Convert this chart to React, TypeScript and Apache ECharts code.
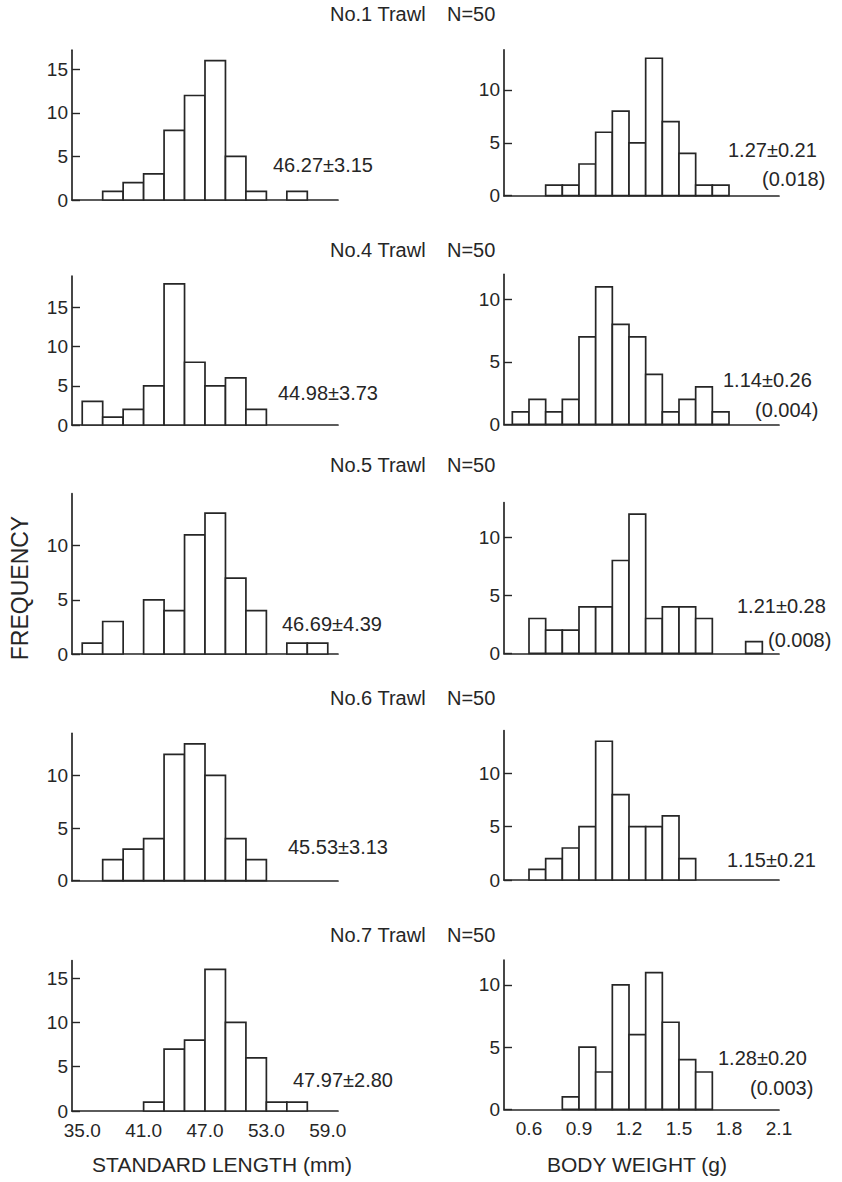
import React, { useEffect, useRef } from 'react';
import * as echarts from 'echarts';

// ---------- data ----------
const trawls = ['No.1 Trawl', 'No.4 Trawl', 'No.5 Trawl', 'No.6 Trawl', 'No.7 Trawl'];
const sampleSize = 'N=50';

const lengthBinStarts = [35, 37, 39, 41, 43, 45, 47, 49, 51, 53, 55, 57];
const lengthBinWidth = 2;
const lengthCountsNo1 = [0, 1, 2, 3, 8, 12, 16, 5, 1, 0, 1, 0];
const lengthCountsNo4 = [3, 1, 2, 5, 18, 8, 5, 6, 2, 0, 0, 0];
const lengthCountsNo5 = [1, 3, 0, 5, 4, 11, 13, 7, 4, 0, 1, 1];
const lengthCountsNo6 = [0, 2, 3, 4, 12, 13, 10, 4, 2, 0, 0, 0];
const lengthCountsNo7 = [0, 0, 0, 1, 7, 8, 16, 10, 6, 1, 1, 0];
const lengthCounts = [lengthCountsNo1, lengthCountsNo4, lengthCountsNo5, lengthCountsNo6, lengthCountsNo7];

const weightBinStarts = [0.5, 0.6, 0.7, 0.8, 0.9, 1.0, 1.1, 1.2, 1.3, 1.4, 1.5, 1.6, 1.7, 1.8, 1.9, 2.0];
const weightBinWidth = 0.1;
const weightCountsNo1 = [0, 0, 1, 1, 3, 6, 8, 5, 13, 7, 4, 1, 1, 0, 0, 0];
const weightCountsNo4 = [1, 2, 1, 2, 7, 11, 8, 7, 4, 1, 2, 3, 1, 0, 0, 0];
const weightCountsNo5 = [0, 3, 2, 2, 4, 4, 8, 12, 3, 4, 4, 3, 0, 0, 1, 0];
const weightCountsNo6 = [0, 1, 2, 3, 5, 13, 8, 5, 5, 6, 2, 0, 0, 0, 0, 0];
const weightCountsNo7 = [0, 0, 0, 1, 5, 3, 10, 6, 11, 7, 4, 3, 0, 0, 0, 0];
const weightCounts = [weightCountsNo1, weightCountsNo4, weightCountsNo5, weightCountsNo6, weightCountsNo7];

const lengthTicks = [35, 41, 47, 53, 59];
const weightTicks = [0.6, 0.9, 1.2, 1.5, 1.8, 2.1];
const freqTicks = [0, 5, 10, 15];

const lengthStats = ['46.27±3.15', '44.98±3.73', '46.69±4.39', '45.53±3.13', '47.97±2.80'];
const weightStats = ['1.27±0.21', '1.14±0.26', '1.21±0.28', '1.15±0.21', '1.28±0.20'];
const weightSE = ['(0.018)', '(0.004)', '(0.008)', '', '(0.003)'];

// ---------- layout ----------
const FONT = "'Liberation Sans', Arial, Helvetica, sans-serif";
const INK = '#262626';
const leftGrid = { left: 72, width: 266, min: 34, max: 60 };
const rightGrid = { left: 504, width: 275, min: 0.45, max: 2.1 };
const leftBase = [200, 425, 654, 880.7, 1111];
const leftHeight = [149.8, 149, 160.3, 147.4, 150.5];
const leftYMax = [17.2, 19, 14.8, 14, 17];
const rightBase = [195.7, 424.3, 653.3, 880, 1109.3];
const rightHeight = [145.9, 150, 150.8, 149.4, 149.2];
const rightYMax = [13.8, 12, 13, 14, 12];
const titleY = [14, 250, 465, 698, 935];
const lStatPos = [[273, 165], [278, 393], [282, 624], [288, 847], [293, 1080]];
const rStatPos = [[728, 150], [723, 380], [737, 606], [727, 860], [718, 1058]];
const rSEPos = [[762, 179], [755, 410], [768, 640], [0, 0], [750, 1088]];

function renderHist(params: any, api: any) {
  const x0 = api.value(0);
  const x1 = api.value(1);
  const c = api.value(2);
  if (!(c > 0)) return null;
  const p0 = api.coord([x0, c]);
  const p1 = api.coord([x1, 0]);
  return {
    type: 'rect',
    shape: { x: p0[0], y: p0[1], width: p1[0] - p0[0], height: p1[1] - p0[1] },
    style: { fill: '#ffffff', stroke: INK, lineWidth: 1.7 },
  };
}

function text(t: string, x: number, y: number, size: number, extra: any = {}) {
  return {
    type: 'text',
    x,
    y,
    silent: true,
    ...extra,
    style: {
      text: t,
      fontSize: size,
      fontFamily: FONT,
      fill: INK,
      align: extra.align || 'left',
      textAlign: extra.align || 'left',
      verticalAlign: 'middle',
      textVerticalAlign: 'middle',
    },
  };
}

export default function App() {
  const ref = useRef<HTMLDivElement>(null);

  useEffect(() => {
    if (!ref.current) return;
    const chart = echarts.init(ref.current, undefined, { renderer: 'svg' });

    const grids: any[] = [];
    const xAxes: any[] = [];
    const yAxes: any[] = [];
    const series: any[] = [];

    const addPanel = (
      g: any,
      base: number,
      height: number,
      yMax: number,
      ticks: number[],
      showX: boolean,
      starts: number[],
      width: number,
      counts: number[],
      decimals: number
    ) => {
      const idx = grids.length;
      grids.push({ left: g.left, width: g.width, top: base - height, height });
      xAxes.push({
        type: 'value',
        gridIndex: idx,
        min: g.min,
        max: g.max,
        axisLine: { show: true, lineStyle: { color: INK, width: 1.7 } },
        axisTick: { show: false },
        splitLine: { show: false },
        axisLabel: {
          show: showX,
          customValues: ticks,
          formatter: (v: number) => v.toFixed(1),
          fontSize: 19,
          fontFamily: FONT,
          color: INK,
          margin: 10,
          hideOverlap: false,
        },
      });
      const yt = freqTicks.filter((t) => t <= yMax);
      yAxes.push({
        type: 'value',
        gridIndex: idx,
        min: 0,
        max: yMax,
        axisLine: { show: true, lineStyle: { color: INK, width: 1.7 } },
        axisTick: { show: true, inside: true, length: 8, customValues: yt, lineStyle: { color: INK, width: 1.4 } },
        splitLine: { show: false },
        axisLabel: {
          customValues: yt,
          fontSize: 19,
          fontFamily: FONT,
          color: INK,
          margin: 4,
        },
      });
      series.push({
        type: 'custom',
        xAxisIndex: idx,
        yAxisIndex: idx,
        silent: true,
        renderItem: renderHist,
        encode: { x: [0, 1], y: 2 },
        data: starts.map((s, j) => [s, +(s + width).toFixed(decimals), counts[j]]),
      });
    };

    for (let r = 0; r < 5; r++) {
      addPanel(leftGrid, leftBase[r], leftHeight[r], leftYMax[r], lengthTicks, r === 4,
        lengthBinStarts, lengthBinWidth, lengthCounts[r], 0);
      addPanel(rightGrid, rightBase[r], rightHeight[r], rightYMax[r], weightTicks, r === 4,
        weightBinStarts, weightBinWidth, weightCounts[r], 2);
    }

    const graphics: any[] = [];
    for (let r = 0; r < 5; r++) {
      graphics.push(text(trawls[r], 330, titleY[r], 20));
      graphics.push(text(sampleSize, 447, titleY[r], 20));
      graphics.push(text(lengthStats[r], lStatPos[r][0], lStatPos[r][1], 20));
      graphics.push(text(weightStats[r], rStatPos[r][0], rStatPos[r][1], 20));
      if (weightSE[r]) graphics.push(text(weightSE[r], rSEPos[r][0], rSEPos[r][1], 20));
    }
    graphics.push(text('FREQUENCY', 20, 588, 23, { align: 'center', rotation: Math.PI / 2 }));
    graphics.push(text('STANDARD LENGTH (mm)', 222, 1164, 21, { align: 'center' }));
    graphics.push(text('BODY WEIGHT (g)', 637, 1164, 21, { align: 'center' }));

    chart.setOption({
      animation: false,
      backgroundColor: '#ffffff',
      grid: grids,
      xAxis: xAxes,
      yAxis: yAxes,
      series,
      graphic: { elements: graphics },
    });

    return () => chart.dispose();
  }, []);

  return (
    <div
      ref={ref}
      style={{ position: 'absolute', left: 0, top: 0, width: 842, height: 1182, background: '#fff' }}
    />
  );
}
